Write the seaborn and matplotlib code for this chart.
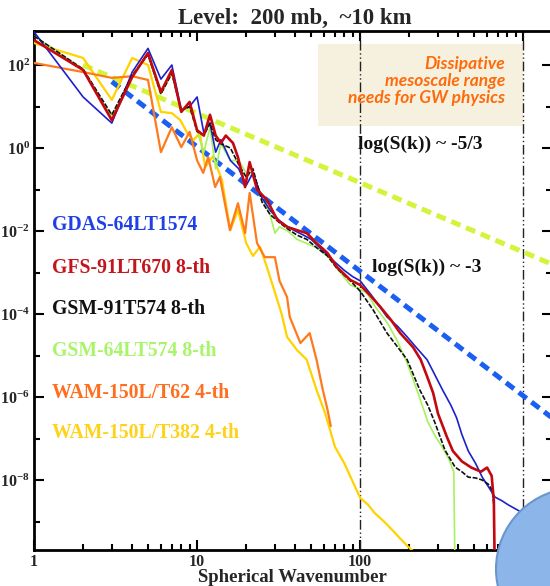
import numpy as np
import pandas as pd
import matplotlib
matplotlib.use("Agg")
import matplotlib.pyplot as plt
import seaborn as sns
from matplotlib.patches import Ellipse, Rectangle
from matplotlib.ticker import FixedLocator, FixedFormatter, NullFormatter

# ---------------- data (S values as log10 exponents) -------------
gdas_k = [1, 2, 3, 4, 5, 6, 7, 8, 9, 10, 11, 12, 13, 14, 16, 18, 20, 22, 25, 28, 32, 36, 40, 45,
          50, 60, 70, 80, 90, 100, 120, 146, 170, 194, 220, 257, 290, 320, 360, 390, 420, 460,
          510, 560, 620, 670, 740, 810, 900, 1000, 1150, 1300]
gdas_logS = [2.8, 1.23, 0.6, 1.83, 2.4, 1.66, 2.0, 0.92, 1.0, 1.23, 0.36, 0.6, -0.1, 0.2, -0.3,
             -0.5, -0.9, -0.6, -1.2, -1.5, -1.75, -1.9, -2.0, -2.1, -2.2, -2.5, -2.75, -2.95,
             -3.1, -3.2, -3.6, -4.07, -4.3, -4.55, -4.8, -5.1, -5.5, -5.83, -6.2, -6.5, -6.9,
             -7.3, -7.6, -7.93, -8.2, -8.41, -8.5, -8.6, -8.7, -8.8, -8.85, -8.9]

gfs_k = [1, 2, 3, 4, 5, 6, 7, 8, 9, 10, 11, 12, 13, 14, 15, 16.6, 17.8, 19.7, 21, 23.3, 26.8, 31,
         35.6, 41, 47, 54, 63, 72, 87, 100, 115, 133, 155, 176, 211, 235, 257, 280, 300, 340,
         370, 420, 480, 550, 600, 640, 660, 670]
gfs_logS = [2.6, 1.88, 0.67, 1.71, 2.29, 1.35, 1.88, 0.87, 1.11, 0.43, 0.3, 0.8, 0.3, 0.12, 0.3,
            0.12, -0.22, -0.94, -0.34, -1.0, -1.25, -1.73, -1.9, -1.98, -2.05, -2.29, -2.53,
            -2.87, -3.18, -3.3, -3.55, -3.83, -4.15, -4.46, -4.8, -5.1, -5.5, -5.9, -6.4, -6.96,
            -7.3, -7.55, -7.7, -7.8, -7.7, -7.9, -8.5, -10.5]

gsm91_k = [1, 2, 3, 4, 5, 6, 7, 8, 9, 10, 11, 12, 13, 14, 16, 18, 20, 22, 25, 28, 32, 36, 41, 47,
           54, 63, 72, 87, 100, 120, 146, 170, 194, 232, 260, 288, 331, 382, 420, 460, 510, 560,
           610, 645, 660]
gsm91_logS = [2.7, 1.9, 0.8, 1.75, 2.25, 1.3, 1.8, 0.9, 1.0, 0.4, 0.3, 0.6, 0.2, 0.1, 0.0, -0.4,
              -0.7, -0.5, -1.3, -1.6, -1.8, -1.95, -2.1, -2.2, -2.4, -2.6, -2.9, -3.2, -3.45,
              -3.9, -4.46, -4.8, -5.1, -5.83, -6.2, -6.63, -7.28, -7.69, -7.8, -7.93, -7.95,
              -8.0, -8.1, -8.24, -8.6]

gsm64_k = [1, 2, 3, 4, 5, 6, 7, 8, 9, 10, 11, 12, 13, 14, 16, 18, 20, 22, 25, 28, 30, 32, 36, 41,
           47, 54, 63, 72, 87, 100, 110, 125, 146, 168, 194, 226, 260, 290, 318, 350, 365, 375,
           382]
gsm64_logS = [2.7, 1.9, 0.75, 1.75, 2.25, 1.3, 1.8, 0.9, 1.0, 0.4, -0.1, 0.5, -0.5, 0.1, -0.3,
              -0.3, -0.6, -0.7, -1.2, -1.6, -2.05, -1.9, -2.0, -2.2, -2.3, -2.4, -2.6, -2.9,
              -3.3, -3.4, -3.5, -3.85, -4.2, -4.63, -5.18, -5.9, -6.6, -6.96, -7.2, -7.5, -7.69,
              -7.8, -10.5]

wam62_k = [1, 2, 3, 4, 5, 6, 7, 8, 9, 10, 10.9, 11.7, 12.9, 13.8, 15.9, 17.8, 19.7, 21, 23.3, 26,
           30, 32, 35.6, 37, 43, 49, 54, 59, 63, 66]
wam62_logS = [2.05, 1.83, 1.69, 1.73, 1.64, -0.1, 0.5, 0.02, 0.39, -0.3, -0.6, -0.22, -0.94,
              -0.7, -1.98, -1.33, -2.05, -1.08, -2.29, -2.63, -2.63, -3.2, -3.59, -4.07, -4.7,
              -4.46, -5.1, -5.83, -6.3, -6.7]

wam382_k = [1, 2, 3, 4, 5, 6, 7, 7.9, 8.7, 9.5, 10.4, 11.2, 12.5, 14.2, 16, 17.8, 20, 22, 24.3,
            26.8, 29.3, 31, 33, 35.6, 41, 47, 54, 61, 70, 80, 89, 100, 112, 123, 140, 157, 175,
            196, 216]
wam382_logS = [2.53, 2.17, 1.16, 2.17, 2.0, 0.87, 0.84, 0.67, 0.36, 0.19, 0.36, -0.46, -0.2,
               -0.77, -1.98, -1.49, -2.29, -2.6, -2.38, -2.87, -3.35, -3.66, -4.0, -4.55, -4.87,
               -5.1, -5.83, -6.39, -7.2, -7.6, -8.0, -8.43, -8.6, -8.8, -9.0, -9.2, -9.4, -9.6,
               -9.75]

# reference slopes (end points)
ref53_k = [2, 1500]
ref53_logS = [2.0, -2.8]
ref3_k = [3, 1500]
ref3_logS = [1.6, -6.5]

legend_labels = ["GDAS-64LT1574", "GFS-91LT670 8-th", "GSM-91T574 8-th",
                 "GSM-64LT574 8-th", "WAM-150L/T62 4-th", "WAM-150L/T382 4-th"]
ytick_exps = [-8, -6, -4, -2, 0, 2]
xtick_vals = [1, 10, 100, 1000]
xtick_labels = ["1", "10", "100", ""]

# ---------------- style ----------------
sns.set_style("ticks")
plt.rcParams["font.family"] = ["Liberation Serif", "DejaVu Serif"]
plt.rcParams["mathtext.fontset"] = "custom"
plt.rcParams["mathtext.rm"] = "Liberation Serif:bold"
plt.rcParams["mathtext.bf"] = "Liberation Serif:bold"
plt.rcParams["mathtext.it"] = "Liberation Serif:bold"

W, H = 550, 586
fig = plt.figure(figsize=(W / 100, H / 100), dpi=100)
ax = fig.add_axes([34 / W, (H - 550) / H, 518 / W, 519 / H])
ax.set_xscale("log")
ax.set_yscale("log")
ax.set_xlim(1, 1500)
ax.set_ylim(2.06e-10, 660)

# shaded annotation box and vertical markers
ax.add_patch(Rectangle((55.2, 3.39), 1000 - 55.2, 320 - 3.39, facecolor="#f5f1de",
                       edgecolor="none", zorder=0.5))
for xv in [100, 1000]:
    ax.axvline(xv, color="#222222", lw=1.0, ls=(0, (7, 2, 1, 2, 1, 2)), zorder=1)

def draw(k, logS, color, lw, z, ls="-"):
    df = pd.DataFrame({"k": k, "S": np.power(10.0, np.array(logS))})
    sns.lineplot(data=df, x="k", y="S", ax=ax, color=color, lw=lw, ls=ls,
                 estimator=None, sort=False, legend=False, zorder=z)

# reference slope lines
draw(ref53_k, ref53_logS, "#d2f53c", 3.6, 2, ls=(0, (2.0, 1.2)))
draw(ref3_k, ref3_logS, "#1a5ef2", 3.6, 2, ls=(0, (2.0, 1.2)))

# spectra
draw(wam382_k, wam382_logS, "#ffd200", 1.6, 3)
draw(wam62_k, wam62_logS, "#ff7a1c", 1.6, 3.1)
draw(gsm64_k, gsm64_logS, "#a6f25e", 1.2, 3.2)
draw(gdas_k, gdas_logS, "#1a22cc", 1.2, 3.3)
draw(gsm91_k, gsm91_logS, "#111111", 1.2, 3.4, ls=(0, (3, 1)))
draw(gfs_k, gfs_logS, "#c4080f", 1.9, 3.5)

ax.set_xlabel("")
ax.set_ylabel("")

# ticks
ax.xaxis.set_major_locator(FixedLocator(xtick_vals))
ax.xaxis.set_major_formatter(FixedFormatter(xtick_labels))
ax.xaxis.set_minor_locator(FixedLocator([m * 10 ** d for d in range(0, 4) for m in range(2, 10)]))
ax.xaxis.set_minor_formatter(NullFormatter())
ax.yaxis.set_major_locator(FixedLocator([10.0 ** e for e in ytick_exps]))
ax.yaxis.set_major_formatter(FixedFormatter([r"$\mathbf{10^{%d}}$" % e for e in ytick_exps]))
ax.yaxis.set_minor_locator(FixedLocator([10.0 ** e for e in [-9, -7, -5, -3, -1, 1]]))
ax.yaxis.set_minor_formatter(NullFormatter())
ax.tick_params(which="both", direction="in", top=True, right=True, width=1.5, color="black")
ax.tick_params(which="major", length=7)
ax.tick_params(which="minor", length=4)
ax.tick_params(axis="x", which="major", labelsize=11.5, pad=3)
ax.tick_params(axis="y", which="major", labelsize=11.5, pad=3)
for lab in ax.get_xticklabels():
    lab.set_fontweight("bold")
for sp in ax.spines.values():
    sp.set_linewidth(2)
    sp.set_color("black")

# title and axis label
fig.text(295 / W, 1 - 18 / H, "Level:  200 mb,  ~10 km", ha="center", va="center",
         fontsize=16.5, fontweight="bold")
fig.text(292 / W, 1 - 582 / H, "Spherical Wavenumber", ha="center", va="baseline",
         fontsize=13.5, fontweight="bold")

# colored legend labels
leg_colors = ["#1f40e6", "#c4141c", "#111111", "#a8f56a", "#ff6e1e", "#ffd21a"]
leg_y = [225, 268, 309, 351, 393, 433]
for lab, c, yy in zip(legend_labels, leg_colors, leg_y):
    fig.text(52 / W, 1 - yy / H, lab, color=c, fontsize=14.2, fontweight="bold",
             ha="left", va="center")

# slope annotations
fig.text(358 / W, 1 - 144 / H, "log(S(k)) ~ -5/3", fontsize=14, fontweight="bold",
         ha="left", va="center", color="#111111")
fig.text(372 / W, 1 - 267 / H, "log(S(k)) ~ -3", fontsize=14, fontweight="bold",
         ha="left", va="center", color="#111111")

# orange box text
for txt, yy in zip(["Dissipative", "mesoscale range", "needs for GW physics"], [64, 81, 98]):
    fig.text(505 / W, 1 - yy / H, txt, color="#ff6a0a", fontsize=12.5, fontstyle="italic",
             fontweight="bold", family=["Lato", "DejaVu Sans"], ha="right", va="center")

# decorative blue disc at the bottom right
fig.add_artist(Ellipse((577 / 100, (H - 569) / 100), 1.62, 1.62, transform=fig.dpi_scale_trans,
                       facecolor="#8cb6ea", edgecolor="#6a96cf", lw=1.5, zorder=10))

fig.savefig("out.png", dpi=100)
